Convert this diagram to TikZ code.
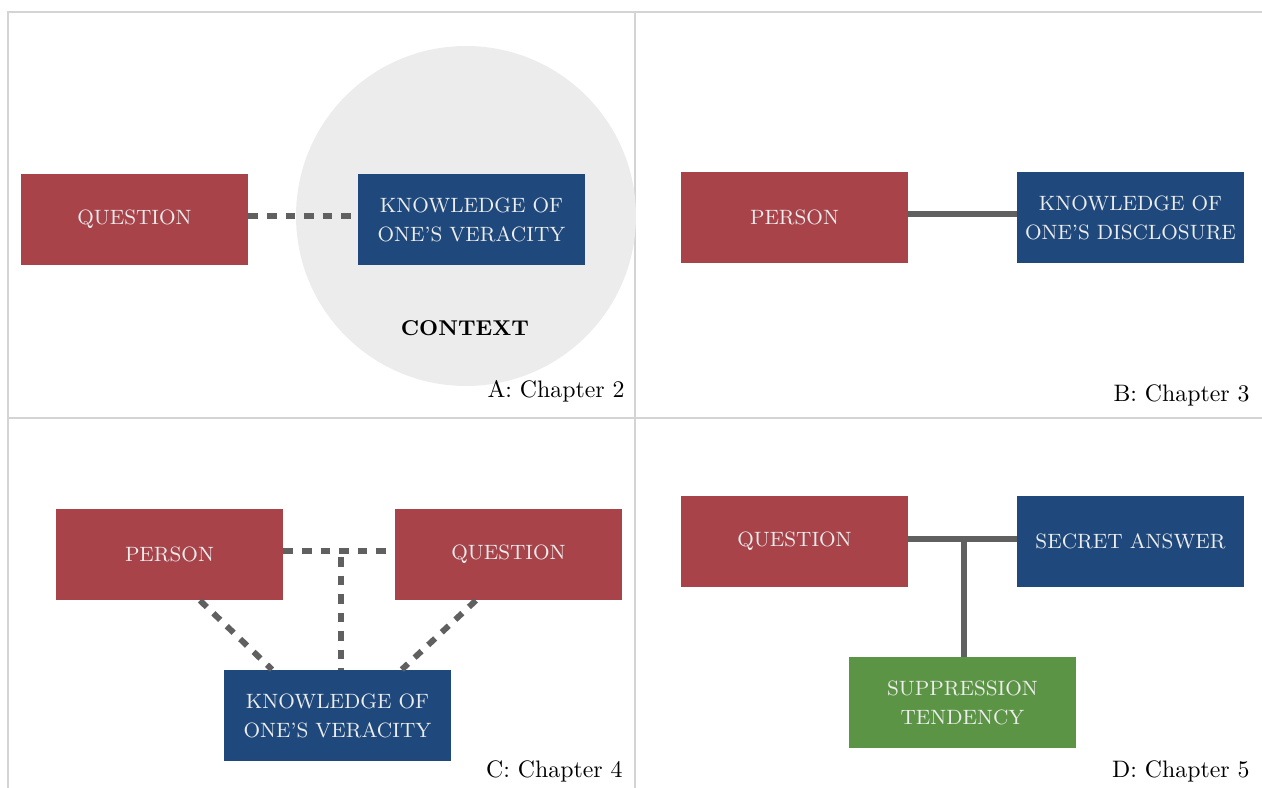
\documentclass[tikz,border=0pt]{standalone}
\usepackage{xcolor}
\definecolor{custom-red}{RGB}{168, 67, 74}
\definecolor{custom-blue}{RGB}{31, 73, 124}
\definecolor{custom-green}{RGB}{92, 148, 70}
\definecolor{link-grey}{RGB}{96, 96, 96}
\definecolor{context-grey}{RGB}{236, 236, 236}
\definecolor{frame-grey}{RGB}{212, 212, 212}
\tikzset{
  concept/.style={minimum width=95.3pt, minimum height=38.2pt, inner sep=0pt,
    align=center, text=white!93!black, font={\fontsize{8.7}{12.2}\selectfont}},
  red concept/.style={concept, fill=custom-red},
  blue concept/.style={concept, fill=custom-blue},
  green concept/.style={concept, fill=custom-green},
  link/.style={draw=link-grey, line width=2.5pt},
  dashed link/.style={link, dash pattern=on 4pt off 3.8pt},
  chapter/.style={anchor=base east, inner sep=0pt}
}

\begin{document}
\begin{tikzpicture}[x=0.42pt, y=-0.42pt]
\useasboundingbox (0,0) rectangle (1262,788);
% frame
\draw[frame-grey, line width=0.8pt] (8,788) -- (8,12) -- (1262,12);
\draw[frame-grey, line width=0.8pt] (635,12) -- (635,788);
\draw[frame-grey, line width=0.8pt] (8,418) -- (1262,418);

% A
\fill[context-grey] (466,216) circle [radius=71.4pt];
\node[red concept] (qa) at (134.5,219.5) {QUESTION};
\node[blue concept] (ka) at (471.5,219.5) {KNOWLEDGE OF\\ONE'S VERACITY};
\node[font=\small\bfseries] (ctx) at (465,328) {CONTEXT};
\draw[dashed link] ([yshift=1.5pt]qa.east) -- ([yshift=1.5pt]ka.west);
\node[chapter] (capa) at (625,398) {A: Chapter 2};

% B
\node[red concept] (pb) at (794.5,217.5) {PERSON};
\node[blue concept] (kb) at (1130.5,217.5) {KNOWLEDGE OF\\ONE'S DISCLOSURE};
\draw[link] ([yshift=1.5pt]pb.east) -- ([yshift=1.5pt]kb.west);
\node[chapter] (capb) at (1250,402) {B: Chapter 3};

% C
\node[red concept] (pc) at (169.5,554.5) {PERSON};
\node[red concept] (qc) at (508.5,554.5) {QUESTION};
\node[blue concept] (kc) at (337.5,715.5) {KNOWLEDGE OF\\ONE'S VERACITY};
\coordinate (teec) at (341,557);
\draw[dashed link] ([yshift=1.5pt]pc.east) -- ([yshift=1.5pt]qc.west);
\draw[dashed link] (teec) -- (teec |- kc.north);
\draw[dashed link] ([xshift=12.8pt]pc.south) -- ([xshift=-27.5pt]kc.north);
\draw[dashed link] ([xshift=-13.7pt]qc.south) -- ([xshift=27pt]kc.north);
\node[chapter] (capc) at (623,777) {C: Chapter 4};

% D
\node[red concept] (qd) at (794.5,541.5) {QUESTION};
\node[blue concept] (sd) at (1130.5,541.5) {SECRET ANSWER};
\node[green concept] (td) at (962.5,702.5) {SUPPRESSION\\TENDENCY};
\coordinate (teed) at (964,539);
\draw[link] (qd.east |- teed) -- (sd.west |- teed);
\draw[link] (teed) -- (teed |- td.north);
\node[chapter] (capd) at (1250,777) {D: Chapter 5};
\end{tikzpicture}
\end{document}
